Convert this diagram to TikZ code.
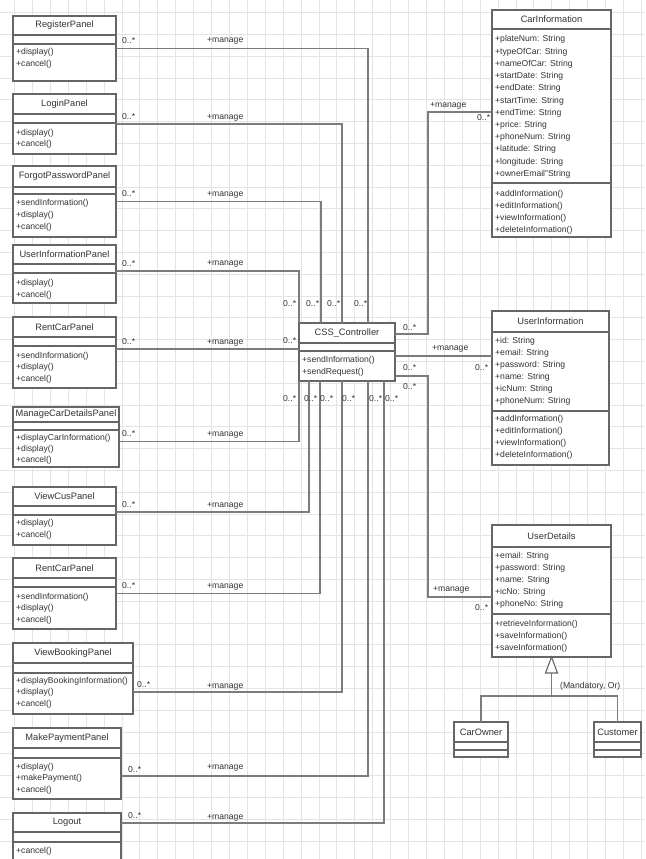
\documentclass[tikz,border=0pt]{standalone}
\usepackage{fontspec}
\setmainfont{Liberation Sans}
\usetikzlibrary{calc}

\definecolor{gridc}{HTML}{E4E4E4}
\definecolor{boxc}{HTML}{666666}
\definecolor{linec}{HTML}{7C7C7C}
\definecolor{txtc}{HTML}{333333}

\tikzset{
  classbox/.style={draw=boxc, line width=1.4pt, fill=white, inner sep=0pt, outer sep=0pt, anchor=north west},
  divider/.style={draw=boxc, line width=1.1pt},
  assoc/.style={draw=linec, line width=1.3pt},
  member/.style={inner sep=0pt, text=txtc, font=\fontsize{8.6}{10}\selectfont},
  ctitle/.style={inner sep=0pt, text=txtc, font=\fontsize{9.3}{11}\selectfont},
  mult/.style={inner sep=0pt, text=txtc, font=\fontsize{8.6}{10}\selectfont, anchor=base west},
  gridline/.style={draw=gridc, line width=0.7pt},
}

% class box: name, left, top, right, bottom, first divider, second divider, title
\newcommand{\umlclass}[8]{%
  \node[classbox, minimum width={(#4-#2)*1pt}, minimum height={(#5-#3)*1pt}] (#1) at (#2,#3) {};
  \draw[divider] (#2,#6) -- (#4,#6);
  \draw[divider] (#2,#7) -- (#4,#7);
  \node[ctitle] (#1-title) at ({(#2+#4)/2},{(#3+#6)/2}) {#8};
}
% member lines: name prefix, x, first baseline, spacing, list
\newcommand{\umlmembers}[5]{%
  \foreach \m [count=\i from 0] in {#5} {
    \node[member, anchor=base west] (#1-\i) at (#2,{#3+\i*#4}) {\m};
  }
}

\begin{document}
\begin{tikzpicture}[x=1pt, y=-1pt]
\useasboundingbox (0,0) rectangle (645,859);
\clip (0,0) rectangle (645,859);
\fill[white] (0,0) rectangle (645,859);

% background grid
\foreach \k in {0,...,36} \draw[gridline] ({14.4+17.91*(\k-1)},0) -- ++(0,859);
\foreach \k in {0,...,39} \draw[gridline] (0,{12.5+21.8*\k}) -- ++(645,0);

% ---------- left column of panels ----------
\umlclass{reg}{13}{16}{116}{81}{35}{44}{RegisterPanel}
\umlmembers{reg-m}{16}{55}{11.5}{+display(),+cancel()}

\umlclass{login}{13}{94}{116}{154}{114}{123}{LoginPanel}
\umlmembers{login-m}{16}{135}{11.5}{+display(),+cancel()}

\umlclass{forgot}{13}{166}{116}{237}{187}{194}{ForgotPasswordPanel}
\umlmembers{forgot-m}{16}{205}{12}{+sendInformation(),+display(),+cancel()}

\umlclass{uip}{13}{245}{116}{303}{264}{273}{UserInformationPanel}
\umlmembers{uip-m}{16}{285}{12}{+display(),+cancel()}

\umlclass{rentA}{13}{317}{116}{388}{337}{346}{RentCarPanel}
\umlmembers{rentA-m}{16}{358}{11.7}{+sendInformation(),+display(),+cancel()}

\umlclass{mcd}{13}{407}{119}{467}{422}{430}{ManageCarDetailsPanel}
\umlmembers{mcd-m}{16}{440}{11.2}{+displayCarInformation(),+display(),+cancel()}

\umlclass{vcus}{13}{487}{116}{545}{506}{515}{ViewCusPanel}
\umlmembers{vcus-m}{16}{525}{12}{+display(),+cancel()}

\umlclass{rentB}{13}{558}{116}{629}{578}{587}{RentCarPanel}
\umlmembers{rentB-m}{16}{599}{11.5}{+sendInformation(),+display(),+cancel()}

\umlclass{vbook}{13}{643}{133}{714}{663}{673}{ViewBookingPanel}
\umlmembers{vbook-m}{16}{683}{11.5}{+displayBookingInformation(),+display(),+cancel()}

\umlclass{mpay}{13}{728}{121}{799}{748}{758}{MakePaymentPanel}
\umlmembers{mpay-m}{16}{769}{11.5}{+display(),+makePayment(),+cancel()}

\umlclass{logout}{13}{813}{121}{875}{832}{842}{Logout}
\umlmembers{logout-m}{16}{853}{11.5}{+cancel()}

% ---------- controller ----------
\umlclass{ctrl}{299}{323}{395}{381}{343}{351}{CSS\_Controller}
\umlmembers{ctrl-m}{302}{362}{12}{+sendInformation(),+sendRequest()}

% ---------- right column ----------
\umlclass{ci}{492}{10}{611}{237}{29}{183}{CarInformation}
\umlmembers{ci-a}{495}{42}{12.2}{+plateNum: String,+typeOfCar: String,+nameOfCar: String,+startDate: String,+endDate: String,+startTime: String,+endTime: String,+price: String,+phoneNum: String,+latitude: String,+longitude: String,+ownerEmail"String}
\umlmembers{ci-o}{495}{196}{12}{+addInformation(),+editInformation(),+viewInformation(),+deleteInformation()}

\umlclass{ui}{492}{311}{609}{465}{332}{411}{UserInformation}
\umlmembers{ui-a}{495}{343}{12}{+id: String,+email: String,+password: String,+name: String,+icNum: String,+phoneNum: String}
\umlmembers{ui-o}{495}{421}{12.3}{+addInformation(),+editInformation(),+viewInformation(),+deleteInformation()}

\umlclass{ud}{492}{525}{611}{657}{547}{614}{UserDetails}
\umlmembers{ud-a}{495}{558}{12.2}{+email: String,+password: String,+name: String,+icNo: String,+phoneNo: String}
\umlmembers{ud-o}{495}{626}{12}{+retrieveInformation(),+saveInformation(),+saveInformation()}

\umlclass{carowner}{454}{722}{508}{757}{742}{750}{CarOwner}
\umlclass{customer}{594}{722}{641}{757}{742}{750}{Customer}

% ---------- associations: panels above the controller ----------
\draw[assoc] (reg.east) -| ([xshift=21pt]ctrl.north);
\draw[assoc] (login.east) -| ([xshift=-5pt]ctrl.north);
\draw[assoc] (forgot.east) -| ([xshift=-26pt]ctrl.north);
\draw[assoc] ([yshift=3pt]uip.east) -| (ctrl.north west);
\coordinate (rentA-a) at ([yshift=3.5pt]rentA.east);
\draw[assoc] (rentA-a) -- (rentA-a -| ctrl.west);

% ---------- associations: panels below the controller ----------
\draw[assoc] ([yshift=-4.5pt]mcd.east) -| (ctrl.south west);
\draw[assoc] ([yshift=4pt]vcus.east) -| ([xshift=-38pt]ctrl.south);
\draw[assoc] (rentB.east) -| ([xshift=-27pt]ctrl.south);
\draw[assoc] ([yshift=-13.5pt]vbook.east) -| ([xshift=-5pt]ctrl.south);
\draw[assoc] ([yshift=-12.5pt]mpay.east) -| ([xshift=21pt]ctrl.south);
\draw[assoc] ([yshift=-10pt]logout.north east) -| ([xshift=37pt]ctrl.south);

% ---------- associations: entity classes ----------
\draw[assoc] ([yshift=-11pt]ctrl.north east) -- ++(33,0) |- ([yshift=11.5pt]ci.west);
\coordinate (ui-a) at ([yshift=-4pt]ctrl.east);
\draw[assoc] (ui-a) -- (ui-a -| ui.west);
\draw[assoc] ([yshift=-24pt]ctrl.east) -- ++(33,0) |- ([yshift=-6pt]ud.west);

% ---------- generalization ----------
\draw[assoc] ([yshift=-16pt]ud.south) -- ++(0,23) coordinate (gen-j);
\draw[assoc] (carowner.north) |- (gen-j) -| (customer.north);
\draw[divider, fill=white] (ud.south) -- ++(-6,16) -- ++(12,0) -- cycle;
\node[mult] (gen-label) at (560,688) {(Mandatory, Or)};

% ---------- multiplicities and roles: left ----------
\node[mult] (reg-n) at (122,44) {0..*};      \node[mult] (reg-r) at (207,43) {+manage};
\node[mult] (login-n) at (122,119) {0..*};   \node[mult] (login-r) at (207,119) {+manage};
\node[mult] (forgot-n) at (122,196) {0..*};  \node[mult] (forgot-r) at (207,196) {+manage};
\node[mult] (uip-n) at (122,266) {0..*};     \node[mult] (uip-r) at (207,265) {+manage};
\node[mult] (rentA-n) at (122,344) {0..*};   \node[mult] (rentA-r) at (207,344) {+manage};
\node[mult] (mcd-n) at (122,436) {0..*};     \node[mult] (mcd-r) at (207,436) {+manage};
\node[mult] (vcus-n) at (122,507) {0..*};    \node[mult] (vcus-r) at (207,507) {+manage};
\node[mult] (rentB-n) at (122,588) {0..*};   \node[mult] (rentB-r) at (207,588) {+manage};
\node[mult] (vbook-n) at (137,687) {0..*};   \node[mult] (vbook-r) at (207,688) {+manage};
\node[mult] (mpay-n) at (128,772) {0..*};    \node[mult] (mpay-r) at (207,769) {+manage};
\node[mult] (logout-n) at (128,818) {0..*};  \node[mult] (logout-r) at (207,819) {+manage};

% ---------- multiplicities at the controller ----------
\node[mult] (ct-1) at (283,306) {0..*};
\node[mult] (ct-2) at (306,306) {0..*};
\node[mult] (ct-3) at (327,306) {0..*};
\node[mult] (ct-4) at (354,306) {0..*};
\node[mult] (ct-5) at (283,343) {0..*};
\node[mult] (cb-1) at (283,401) {0..*};
\node[mult] (cb-2) at (304,401) {0..*};
\node[mult] (cb-3) at (320,401) {0..*};
\node[mult] (cb-4) at (342,401) {0..*};
\node[mult] (cb-5) at (369,401) {0..*};
\node[mult] (cb-6) at (385,401) {0..*};

% ---------- multiplicities and roles: right ----------
\node[mult] (cr-1) at (403,330) {0..*};
\node[mult] (cr-2) at (403,370) {0..*};
\node[mult] (cr-3) at (403,389) {0..*};
\node[mult] (ci-r) at (430,107) {+manage};   \node[mult] (ci-n) at (477,120) {0..*};
\node[mult] (ui-r) at (432,350) {+manage};   \node[mult] (ui-n) at (475,370) {0..*};
\node[mult] (ud-r) at (433,591) {+manage};   \node[mult] (ud-n) at (475,610) {0..*};
\end{tikzpicture}
\end{document}
